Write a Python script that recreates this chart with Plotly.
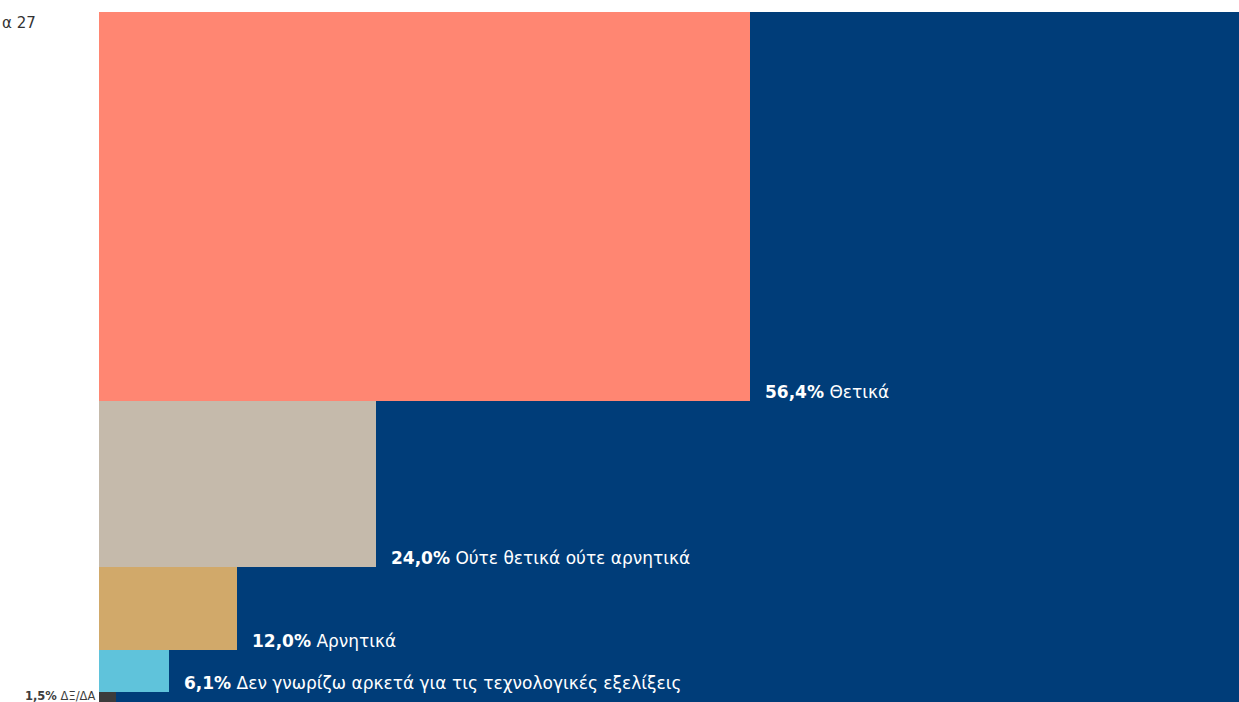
import plotly.graph_objects as go

# Δεδομένα
labels = ["Θετικά", "Ούτε θετικά ούτε αρνητικά", "Αρνητικά",
          "Δεν γνωρίζω αρκετά για τις τεχνολογικές εξελίξεις", "ΔΞ/ΔΑ"]
values = [56.4, 24.0, 12.0, 6.1, 1.5]
colors = ["#FF8672", "#C5BAAB", "#D1A96A", "#5FC3DB", "#3C3C3C"]
title_text = "α 27"

BG = "#003D79"
FONT = "DejaVu Sans"

fig = go.Figure()

# τα ορθογώνια στοιβάζονται από πάνω προς τα κάτω
top = 100.0
bases = []
for v in values:
    top -= v
    bases.append(top)

for lab, v, b, c in zip(labels, values, bases, colors):
    fig.add_trace(go.Bar(
        x=[v / 2], y=[v], base=[b], width=[v],
        marker=dict(color=c, line=dict(width=0)),
        hoverinfo="skip", showlegend=False,
    ))

def fmt(v):
    return f"{v:.1f}".replace(".", ",") + "%"

for i, (lab, v, b) in enumerate(zip(labels, values, bases)):
    if i < len(values) - 1:
        fig.add_annotation(
            x=v, y=b, xref="x", yref="y",
            xanchor="left", yanchor="bottom", xshift=13, yshift=-3,
            text=f"<b>{fmt(v)}</b> {lab}", showarrow=False,
            font=dict(family=FONT, size=17, color="white"),
        )
    else:
        fig.add_annotation(
            x=0, y=b, xref="x", yref="y",
            xanchor="right", yanchor="bottom", xshift=-2, yshift=-3,
            text=f"<b>{fmt(v)}</b> {lab}", showarrow=False,
            font=dict(family=FONT, size=11.5, color="#3C3C3C"),
        )

fig.add_annotation(
    x=0, y=1, xref="paper", yref="paper",
    xanchor="left", yanchor="middle", xshift=-99, yshift=-11,
    text=title_text, showarrow=False,
    font=dict(family=FONT, size=15, color="#333333"),
)

fig.update_layout(
    width=1239, height=702,
    margin=dict(l=99, r=0, t=12, b=0),
    barmode="overlay", bargap=0,
    plot_bgcolor=BG, paper_bgcolor="white",
    xaxis=dict(range=[0, 98.8], visible=False, fixedrange=True),
    yaxis=dict(range=[0, 100], visible=False, fixedrange=True),
)

fig.write_html("out.html", config={"displayModeBar": False},
               post_script="document.body.style.margin='0';")
